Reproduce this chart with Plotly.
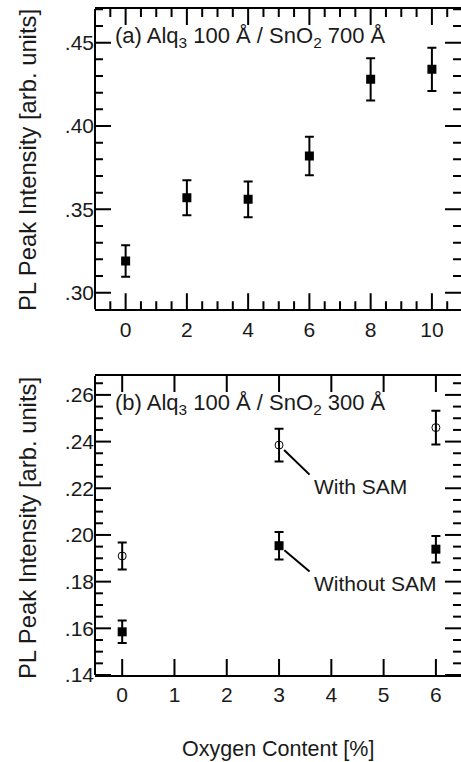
import numpy as np
import plotly.graph_objects as go

# Panel (a): Alq3 100 Å on SnO2 700 Å
oxygen_a = [0, 2, 4, 6, 8, 10]
intensity_a = [0.319, 0.357, 0.356, 0.382, 0.428, 0.434]
error_a = [0.0095, 0.0105, 0.0107, 0.0115, 0.0127, 0.013]

# Panel (b): Alq3 100 Å on SnO2 300 Å, with and without SAM
oxygen_b = [0, 3, 6]
with_sam = [0.191, 0.2385, 0.246]
with_sam_err = [0.0058, 0.007, 0.0072]
without_sam = [0.1585, 0.1954, 0.1939]
without_sam_err = [0.0048, 0.0059, 0.0057]

# Tick labels
xtick_a_vals = [0, 2, 4, 6, 8, 10]
xtick_b_vals = [0, 1, 2, 3, 4, 5, 6]
ytick_a_vals = [0.30, 0.35, 0.40, 0.45]
ytick_a_text = [".30", ".35", ".40", ".45"]
ytick_b_vals = [0.14, 0.16, 0.18, 0.20, 0.22, 0.24, 0.26]
ytick_b_text = [".14", ".16", ".18", ".20", ".22", ".24", ".26"]

FONT = "Arial, Liberation Sans, sans-serif"
INK = "#1a1a1a"
W, H = 461, 762
ML, MR, MT, MB = 95, 0, 9, 87
PW, PH = W - ML - MR, H - MT - MB

XR_A, YR_A = [-1, 10.95], [0.29, 0.4702]
XR_B, YR_B = [-0.52, 6.48], [0.14, 0.2681]
dom_a = [(H - MB - 309.3) / PH, 1.0]
dom_b = [0.0, (H - MB - 376) / PH]
HA = (dom_a[1] - dom_a[0]) * PH   # panel heights in px
HB = (dom_b[1] - dom_b[0]) * PH

MAJOR_LEN, MINOR_LEN = 16, 8


def minor_positions(lo, hi, step, majors):
    """Minor tick positions strictly inside (lo, hi), skipping the majors."""
    vals = np.arange(np.ceil(lo / step) * step, hi, step)
    out = []
    for v in vals:
        v = round(float(v), 6)
        if lo < v < hi and all(abs(v - m) > step / 10 for m in majors):
            out.append(v)
    return out


def tick_trace(xa, ya, xr, yr, xmaj, xstep, ymaj, ystep, h_px):
    """Inward tick marks on all four sides of a panel, as one line trace."""
    xs, ys = [], []
    xminor = minor_positions(xr[0], xr[1], xstep, xmaj) if xstep else []
    yminor = minor_positions(yr[0], yr[1], ystep, ymaj) if ystep else []
    yspan, xspan = yr[1] - yr[0], xr[1] - xr[0]
    for vals, ln in ((xmaj, MAJOR_LEN), (xminor, MINOR_LEN)):
        d = ln / h_px * yspan
        for v in vals:
            xs += [v, v, None, v, v, None]
            ys += [yr[0], yr[0] + d, None, yr[1] - d, yr[1], None]
    for vals, ln in ((ymaj, MAJOR_LEN), (yminor, MINOR_LEN)):
        d = ln / PW * xspan
        for v in vals:
            xs += [xr[0], xr[0] + d, None, xr[1] - d, xr[1], None]
            ys += [v, v, None, v, v, None]
    return go.Scatter(x=xs, y=ys, mode="lines", line=dict(color="black", width=2),
                      connectgaps=False, hoverinfo="skip", showlegend=False,
                      xaxis=xa, yaxis=ya)


fig = go.Figure()
fig.add_trace(tick_trace("x", "y", XR_A, YR_A, xtick_a_vals, 0.5, ytick_a_vals, 0.01, HA))
fig.add_trace(tick_trace("x2", "y2", XR_B, YR_B, xtick_b_vals, None, ytick_b_vals, 0.005, HB))

fig.add_trace(go.Scatter(
    x=oxygen_a, y=intensity_a, mode="markers",
    marker=dict(symbol="square", size=9, color="black"),
    error_y=dict(type="data", array=error_a, visible=True,
                 color="black", thickness=2, width=4.5),
    xaxis="x", yaxis="y", showlegend=False,
))
fig.add_trace(go.Scatter(
    x=oxygen_b, y=with_sam, mode="markers",
    marker=dict(symbol="circle-open-dot", size=8, color="black",
                line=dict(width=1, color="black")),
    error_y=dict(type="data", array=with_sam_err, visible=True,
                 color="black", thickness=2, width=4.5),
    xaxis="x2", yaxis="y2", showlegend=False,
))
fig.add_trace(go.Scatter(
    x=oxygen_b, y=without_sam, mode="markers",
    marker=dict(symbol="square", size=9, color="black"),
    error_y=dict(type="data", array=without_sam_err, visible=True,
                 color="black", thickness=2, width=4.5),
    xaxis="x2", yaxis="y2", showlegend=False,
))

axis_common = dict(
    ticks="", showgrid=False, zeroline=False,
    tickfont=dict(family=FONT, size=21, color=INK),
)
x_common = dict(**axis_common, showline=True, linewidth=2, linecolor="black",
                mirror=True, tickmode="array")
y_common = dict(**axis_common, showline=False, ticksuffix="\u00a0", tickmode="array")


def left_edge(xa, ya):
    return dict(type="line", layer="above", xref=f"{xa} domain", yref=f"{ya} domain",
                x0=0, x1=0, y0=0, y1=1, line=dict(color="black", width=2))


fig.update_layout(
    width=W, height=H,
    margin=dict(l=ML, r=MR, t=MT, b=MB, pad=0),
    paper_bgcolor="white", plot_bgcolor="white",
    font=dict(family=FONT, size=21, color=INK),
    xaxis=dict(**x_common, anchor="y", domain=[0, 1], range=XR_A,
               tickvals=xtick_a_vals),
    yaxis=dict(**y_common, anchor="x", domain=dom_a, range=YR_A,
               tickvals=ytick_a_vals, ticktext=ytick_a_text),
    xaxis2=dict(**x_common, anchor="y2", domain=[0, 1], range=XR_B,
                tickvals=xtick_b_vals),
    yaxis2=dict(**y_common, anchor="x2", domain=dom_b, range=YR_B,
                tickvals=ytick_b_vals, ticktext=ytick_b_text),
    shapes=[left_edge("x", "y"), left_edge("x2", "y2")],
)

ytitle = "PL Peak Intensity [arb. units]"
annotations = [
    dict(text=ytitle, textangle=-90, xref="paper", yref="paper",
         x=(27 - ML) / PW, y=(H - MB - 160) / PH, xanchor="center", yanchor="middle",
         showarrow=False, font=dict(size=23.8)),
    dict(text=ytitle, textangle=-90, xref="paper", yref="paper",
         x=(27 - ML) / PW, y=(H - MB - 528) / PH, xanchor="center", yanchor="middle",
         showarrow=False, font=dict(size=23.8)),
    dict(text="Oxygen Content [%]", xref="paper", yref="paper",
         x=0.5, y=-(749 - (H - MB)) / PH, xanchor="center", yanchor="middle",
         showarrow=False, font=dict(size=21.5)),
    dict(text="(a) Alq<sub>3</sub> 100 Å / SnO<sub>2</sub> 700 Å",
         xref="x domain", yref="y domain", x=(113 - ML) / PW, y=1 - (37 - 9) / HA,
         xanchor="left", yanchor="middle", showarrow=False, font=dict(size=22)),
    dict(text="(b) Alq<sub>3</sub> 100 Å / SnO<sub>2</sub> 300 Å",
         xref="x2 domain", yref="y2 domain", x=(113 - ML) / PW, y=1 - (404 - 376) / HB,
         xanchor="left", yanchor="middle", showarrow=False, font=dict(size=22)),
    # leader lines from the x=3 points to their labels
    dict(text="", x=oxygen_b[1], y=with_sam[1], xref="x2", yref="y2",
         ax=32, ay=31, showarrow=True, arrowhead=0, arrowwidth=2,
         arrowcolor="black", standoff=7),
    dict(text="", x=oxygen_b[1], y=without_sam[1], xref="x2", yref="y2",
         ax=32, ay=27, showarrow=True, arrowhead=0, arrowwidth=2,
         arrowcolor="black", standoff=7),
    dict(text="With SAM", x=oxygen_b[1], y=with_sam[1], xref="x2", yref="y2",
         xanchor="left", yanchor="middle", xshift=33, yshift=-41,
         showarrow=False, font=dict(size=21)),
    dict(text="Without SAM", x=oxygen_b[1], y=without_sam[1], xref="x2", yref="y2",
         xanchor="left", yanchor="middle", xshift=33, yshift=-38,
         showarrow=False, font=dict(size=21)),
]
fig.update_layout(annotations=annotations)

fig.write_html("out.html")
